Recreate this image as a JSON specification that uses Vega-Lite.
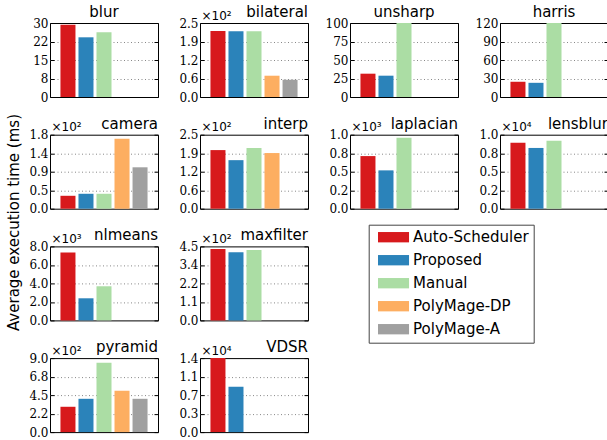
{
  "$schema": "https://vega.github.io/schema/vega-lite/v6.json",
  "padding": {"left": 5, "top": 4, "right": 0, "bottom": 0},
  "bounds": "flush",
  "columns": 4,
  "spacing": {"row": 37.7, "column": 42},
  "data": {"values": [
    {"bench": "blur", "method": "Auto-Scheduler", "time": 29.3},
    {"bench": "blur", "method": "Proposed", "time": 24.2},
    {"bench": "blur", "method": "Manual", "time": 26.3},
    {"bench": "bilateral", "method": "Auto-Scheduler", "time": 222.6},
    {"bench": "bilateral", "method": "Proposed", "time": 222.2},
    {"bench": "bilateral", "method": "Manual", "time": 222.4},
    {"bench": "bilateral", "method": "PolyMage-DP", "time": 71.9},
    {"bench": "bilateral", "method": "PolyMage-A", "time": 58.2},
    {"bench": "unsharp", "method": "Auto-Scheduler", "time": 31.5},
    {"bench": "unsharp", "method": "Proposed", "time": 28.8},
    {"bench": "unsharp", "method": "Manual", "time": 100},
    {"bench": "harris", "method": "Auto-Scheduler", "time": 24.7},
    {"bench": "harris", "method": "Proposed", "time": 23.0},
    {"bench": "harris", "method": "Manual", "time": 120},
    {"bench": "camera", "method": "Auto-Scheduler", "time": 31.4},
    {"bench": "camera", "method": "Proposed", "time": 36.3},
    {"bench": "camera", "method": "Manual", "time": 36.3},
    {"bench": "camera", "method": "PolyMage-DP", "time": 170},
    {"bench": "camera", "method": "PolyMage-A", "time": 100.7},
    {"bench": "interp", "method": "Auto-Scheduler", "time": 198},
    {"bench": "interp", "method": "Proposed", "time": 164},
    {"bench": "interp", "method": "Manual", "time": 205},
    {"bench": "interp", "method": "PolyMage-DP", "time": 188},
    {"bench": "laplacian", "method": "Auto-Scheduler", "time": 711},
    {"bench": "laplacian", "method": "Proposed", "time": 518},
    {"bench": "laplacian", "method": "Manual", "time": 959},
    {"bench": "lensblur", "method": "Auto-Scheduler", "time": 8900},
    {"bench": "lensblur", "method": "Proposed", "time": 8210},
    {"bench": "lensblur", "method": "Manual", "time": 9170},
    {"bench": "nlmeans", "method": "Auto-Scheduler", "time": 7350},
    {"bench": "nlmeans", "method": "Proposed", "time": 2390},
    {"bench": "nlmeans", "method": "Manual", "time": 3690},
    {"bench": "maxfilter", "method": "Auto-Scheduler", "time": 434},
    {"bench": "maxfilter", "method": "Proposed", "time": 415},
    {"bench": "maxfilter", "method": "Manual", "time": 428},
    {"bench": "pyramid", "method": "Auto-Scheduler", "time": 308},
    {"bench": "pyramid", "method": "Proposed", "time": 405},
    {"bench": "pyramid", "method": "Manual", "time": 843},
    {"bench": "pyramid", "method": "PolyMage-DP", "time": 503},
    {"bench": "pyramid", "method": "PolyMage-A", "time": 405},
    {"bench": "VDSR", "method": "Auto-Scheduler", "time": 14000},
    {"bench": "VDSR", "method": "Proposed", "time": 8580}
  ]},
  "concat": [
    {
      "width": 108, "height": 74,
      "title": {"text": "blur", "anchor": "middle", "dy": 7},
      "transform": [{"filter": "datum.bench == 'blur'"}],
      "layer": [
        {"mark": "bar", "encoding": {
          "x": {"field": "method", "type": "nominal", "scale": {"domain": ["Auto-Scheduler", "Proposed", "Manual", "PolyMage-DP", "PolyMage-A"], "paddingInner": 0.1667, "paddingOuter": 0.58}, "axis": null},
          "y": {"field": "time", "type": "quantitative", "scale": {"domain": [0, 30], "nice": false},
                "axis": {"values": [0, 7.5, 15, 22.5, 30], "labelExpr": "['0','8','15','22','30'][indexof([0,7.5,15,22.5,30], datum.value)]",
                         "gridOpacity": {"condition": {"test": "datum.index == 0 || datum.index == 1", "value": 0}, "value": 1},
                         "title": "Average execution time (ms)", "titleX": -37, "titleY": 199, "titleAlign": "center", "titleBaseline": "middle", "titleFontSize": 15}},
          "color": {"field": "method", "type": "nominal", "title": null, "scale": {"domain": ["Auto-Scheduler", "Proposed", "Manual", "PolyMage-DP", "PolyMage-A"], "range": ["#d7191c", "#2b83ba", "#abdda4", "#fdae61", "#a0a0a0"]}}
        }},
        {"mark": {"type": "tick", "opacity": 0}, "encoding": {
          "y": {"field": "time", "type": "quantitative", "scale": {"domain": [0, 30], "nice": false},
                "axis": {"orient": "right", "values": [0, 7.5, 15, 22.5, 30], "labels": false, "grid": false, "title": null}}
        }}
      ],
      "resolve": {"axis": {"y": "independent"}}
    },
    {
      "width": 108, "height": 74,
      "title": {"text": "bilateral", "anchor": "end", "dy": 15},
      "transform": [{"filter": "datum.bench == 'bilateral'"}],
      "layer": [
        {"mark": "bar", "encoding": {
          "x": {"field": "method", "type": "nominal", "scale": {"domain": ["Auto-Scheduler", "Proposed", "Manual", "PolyMage-DP", "PolyMage-A"], "paddingInner": 0.1667, "paddingOuter": 0.58}, "axis": null},
          "y": {"field": "time", "type": "quantitative", "scale": {"domain": [0, 250], "nice": false},
                "axis": {"values": [0, 62.5, 125, 187.5, 250], "labelExpr": "['0.0','0.6','1.2','1.9','2.5'][indexof([0,62.5,125,187.5,250], datum.value)]",
                         "gridOpacity": {"condition": {"test": "datum.index == 0 || datum.index == 1", "value": 0}, "value": 1},
                         "title": "×10²", "titleAngle": 0, "titleAlign": "left", "titleBaseline": "alphabetic", "titleX": 1, "titleY": -4}},
          "color": {"field": "method", "type": "nominal", "title": null, "scale": {"domain": ["Auto-Scheduler", "Proposed", "Manual", "PolyMage-DP", "PolyMage-A"], "range": ["#d7191c", "#2b83ba", "#abdda4", "#fdae61", "#a0a0a0"]}}
        }},
        {"mark": {"type": "tick", "opacity": 0}, "encoding": {
          "y": {"field": "time", "type": "quantitative", "scale": {"domain": [0, 250], "nice": false},
                "axis": {"orient": "right", "values": [0, 62.5, 125, 187.5, 250], "labels": false, "grid": false, "title": null}}
        }}
      ],
      "resolve": {"axis": {"y": "independent"}}
    },
    {
      "width": 108, "height": 74,
      "title": {"text": "unsharp", "anchor": "middle", "dy": 7},
      "transform": [{"filter": "datum.bench == 'unsharp'"}],
      "layer": [
        {"mark": "bar", "encoding": {
          "x": {"field": "method", "type": "nominal", "scale": {"domain": ["Auto-Scheduler", "Proposed", "Manual", "PolyMage-DP", "PolyMage-A"], "paddingInner": 0.1667, "paddingOuter": 0.58}, "axis": null},
          "y": {"field": "time", "type": "quantitative", "scale": {"domain": [0, 100], "nice": false},
                "axis": {"values": [0, 25, 50, 75, 100], "labelExpr": "['0','25','50','75','100'][indexof([0,25,50,75,100], datum.value)]",
                         "gridOpacity": {"condition": {"test": "datum.index == 0 || datum.index == 1", "value": 0}, "value": 1},
                         "title": null}},
          "color": {"field": "method", "type": "nominal", "title": null, "scale": {"domain": ["Auto-Scheduler", "Proposed", "Manual", "PolyMage-DP", "PolyMage-A"], "range": ["#d7191c", "#2b83ba", "#abdda4", "#fdae61", "#a0a0a0"]}}
        }},
        {"mark": {"type": "tick", "opacity": 0}, "encoding": {
          "y": {"field": "time", "type": "quantitative", "scale": {"domain": [0, 100], "nice": false},
                "axis": {"orient": "right", "values": [0, 25, 50, 75, 100], "labels": false, "grid": false, "title": null}}
        }}
      ],
      "resolve": {"axis": {"y": "independent"}}
    },
    {
      "width": 108, "height": 74,
      "title": {"text": "harris", "anchor": "middle", "dy": 7},
      "transform": [{"filter": "datum.bench == 'harris'"}],
      "layer": [
        {"mark": "bar", "encoding": {
          "x": {"field": "method", "type": "nominal", "scale": {"domain": ["Auto-Scheduler", "Proposed", "Manual", "PolyMage-DP", "PolyMage-A"], "paddingInner": 0.1667, "paddingOuter": 0.58}, "axis": null},
          "y": {"field": "time", "type": "quantitative", "scale": {"domain": [0, 120], "nice": false},
                "axis": {"values": [0, 30, 60, 90, 120], "labelExpr": "['0','30','60','90','120'][indexof([0,30,60,90,120], datum.value)]",
                         "gridOpacity": {"condition": {"test": "datum.index == 0 || datum.index == 1", "value": 0}, "value": 1},
                         "title": null}},
          "color": {"field": "method", "type": "nominal", "title": null, "scale": {"domain": ["Auto-Scheduler", "Proposed", "Manual", "PolyMage-DP", "PolyMage-A"], "range": ["#d7191c", "#2b83ba", "#abdda4", "#fdae61", "#a0a0a0"]}}
        }},
        {"mark": {"type": "tick", "opacity": 0}, "encoding": {
          "y": {"field": "time", "type": "quantitative", "scale": {"domain": [0, 120], "nice": false},
                "axis": {"orient": "right", "values": [0, 30, 60, 90, 120], "labels": false, "grid": false, "title": null}}
        }}
      ],
      "resolve": {"axis": {"y": "independent"}}
    },
    {
      "width": 108, "height": 74,
      "title": {"text": "camera", "anchor": "end", "dy": 15},
      "transform": [{"filter": "datum.bench == 'camera'"}],
      "layer": [
        {"mark": "bar", "encoding": {
          "x": {"field": "method", "type": "nominal", "scale": {"domain": ["Auto-Scheduler", "Proposed", "Manual", "PolyMage-DP", "PolyMage-A"], "paddingInner": 0.1667, "paddingOuter": 0.58}, "axis": null},
          "y": {"field": "time", "type": "quantitative", "scale": {"domain": [0, 180], "nice": false},
                "axis": {"values": [0, 45, 90, 135, 180], "labelExpr": "['0.0','0.5','0.9','1.4','1.8'][indexof([0,45,90,135,180], datum.value)]",
                         "gridOpacity": {"condition": {"test": "datum.index == 0 || datum.index == 1", "value": 0}, "value": 1},
                         "title": "×10²", "titleAngle": 0, "titleAlign": "left", "titleBaseline": "alphabetic", "titleX": 1, "titleY": -4}},
          "color": {"field": "method", "type": "nominal", "title": null, "scale": {"domain": ["Auto-Scheduler", "Proposed", "Manual", "PolyMage-DP", "PolyMage-A"], "range": ["#d7191c", "#2b83ba", "#abdda4", "#fdae61", "#a0a0a0"]}}
        }},
        {"mark": {"type": "tick", "opacity": 0}, "encoding": {
          "y": {"field": "time", "type": "quantitative", "scale": {"domain": [0, 180], "nice": false},
                "axis": {"orient": "right", "values": [0, 45, 90, 135, 180], "labels": false, "grid": false, "title": null}}
        }}
      ],
      "resolve": {"axis": {"y": "independent"}}
    },
    {
      "width": 108, "height": 74,
      "title": {"text": "interp", "anchor": "end", "dy": 15},
      "transform": [{"filter": "datum.bench == 'interp'"}],
      "layer": [
        {"mark": "bar", "encoding": {
          "x": {"field": "method", "type": "nominal", "scale": {"domain": ["Auto-Scheduler", "Proposed", "Manual", "PolyMage-DP", "PolyMage-A"], "paddingInner": 0.1667, "paddingOuter": 0.58}, "axis": null},
          "y": {"field": "time", "type": "quantitative", "scale": {"domain": [0, 250], "nice": false},
                "axis": {"values": [0, 62.5, 125, 187.5, 250], "labelExpr": "['0.0','0.6','1.2','1.9','2.5'][indexof([0,62.5,125,187.5,250], datum.value)]",
                         "gridOpacity": {"condition": {"test": "datum.index == 0 || datum.index == 1", "value": 0}, "value": 1},
                         "title": "×10²", "titleAngle": 0, "titleAlign": "left", "titleBaseline": "alphabetic", "titleX": 1, "titleY": -4}},
          "color": {"field": "method", "type": "nominal", "title": null, "scale": {"domain": ["Auto-Scheduler", "Proposed", "Manual", "PolyMage-DP", "PolyMage-A"], "range": ["#d7191c", "#2b83ba", "#abdda4", "#fdae61", "#a0a0a0"]}}
        }},
        {"mark": {"type": "tick", "opacity": 0}, "encoding": {
          "y": {"field": "time", "type": "quantitative", "scale": {"domain": [0, 250], "nice": false},
                "axis": {"orient": "right", "values": [0, 62.5, 125, 187.5, 250], "labels": false, "grid": false, "title": null}}
        }}
      ],
      "resolve": {"axis": {"y": "independent"}}
    },
    {
      "width": 108, "height": 74,
      "title": {"text": "laplacian", "anchor": "end", "dy": 15},
      "transform": [{"filter": "datum.bench == 'laplacian'"}],
      "layer": [
        {"mark": "bar", "encoding": {
          "x": {"field": "method", "type": "nominal", "scale": {"domain": ["Auto-Scheduler", "Proposed", "Manual", "PolyMage-DP", "PolyMage-A"], "paddingInner": 0.1667, "paddingOuter": 0.58}, "axis": null},
          "y": {"field": "time", "type": "quantitative", "scale": {"domain": [0, 1000], "nice": false},
                "axis": {"values": [0, 250, 500, 750, 1000], "labelExpr": "['0.0','0.2','0.5','0.8','1.0'][indexof([0,250,500,750,1000], datum.value)]",
                         "gridOpacity": {"condition": {"test": "datum.index == 0 || datum.index == 1", "value": 0}, "value": 1},
                         "title": "×10³", "titleAngle": 0, "titleAlign": "left", "titleBaseline": "alphabetic", "titleX": 1, "titleY": -4}},
          "color": {"field": "method", "type": "nominal", "title": null, "scale": {"domain": ["Auto-Scheduler", "Proposed", "Manual", "PolyMage-DP", "PolyMage-A"], "range": ["#d7191c", "#2b83ba", "#abdda4", "#fdae61", "#a0a0a0"]}}
        }},
        {"mark": {"type": "tick", "opacity": 0}, "encoding": {
          "y": {"field": "time", "type": "quantitative", "scale": {"domain": [0, 1000], "nice": false},
                "axis": {"orient": "right", "values": [0, 250, 500, 750, 1000], "labels": false, "grid": false, "title": null}}
        }}
      ],
      "resolve": {"axis": {"y": "independent"}}
    },
    {
      "width": 108, "height": 74,
      "title": {"text": "lensblur", "anchor": "end", "dy": 15},
      "transform": [{"filter": "datum.bench == 'lensblur'"}],
      "layer": [
        {"mark": "bar", "encoding": {
          "x": {"field": "method", "type": "nominal", "scale": {"domain": ["Auto-Scheduler", "Proposed", "Manual", "PolyMage-DP", "PolyMage-A"], "paddingInner": 0.1667, "paddingOuter": 0.58}, "axis": null},
          "y": {"field": "time", "type": "quantitative", "scale": {"domain": [0, 10000], "nice": false},
                "axis": {"values": [0, 2500, 5000, 7500, 10000], "labelExpr": "['0.0','0.2','0.5','0.8','1.0'][indexof([0,2500,5000,7500,10000], datum.value)]",
                         "gridOpacity": {"condition": {"test": "datum.index == 0 || datum.index == 1", "value": 0}, "value": 1},
                         "title": "×10⁴", "titleAngle": 0, "titleAlign": "left", "titleBaseline": "alphabetic", "titleX": 1, "titleY": -4}},
          "color": {"field": "method", "type": "nominal", "title": null, "scale": {"domain": ["Auto-Scheduler", "Proposed", "Manual", "PolyMage-DP", "PolyMage-A"], "range": ["#d7191c", "#2b83ba", "#abdda4", "#fdae61", "#a0a0a0"]}}
        }},
        {"mark": {"type": "tick", "opacity": 0}, "encoding": {
          "y": {"field": "time", "type": "quantitative", "scale": {"domain": [0, 10000], "nice": false},
                "axis": {"orient": "right", "values": [0, 2500, 5000, 7500, 10000], "labels": false, "grid": false, "title": null}}
        }}
      ],
      "resolve": {"axis": {"y": "independent"}}
    },
    {
      "width": 108, "height": 74,
      "title": {"text": "nlmeans", "anchor": "end", "dy": 15},
      "transform": [{"filter": "datum.bench == 'nlmeans'"}],
      "layer": [
        {"mark": "bar", "encoding": {
          "x": {"field": "method", "type": "nominal", "scale": {"domain": ["Auto-Scheduler", "Proposed", "Manual", "PolyMage-DP", "PolyMage-A"], "paddingInner": 0.1667, "paddingOuter": 0.58}, "axis": null},
          "y": {"field": "time", "type": "quantitative", "scale": {"domain": [0, 8000], "nice": false},
                "axis": {"values": [0, 2000, 4000, 6000, 8000], "labelExpr": "['0.0','2.0','4.0','6.0','8.0'][indexof([0,2000,4000,6000,8000], datum.value)]",
                         "gridOpacity": {"condition": {"test": "datum.index == 0 || datum.index == 1", "value": 0}, "value": 1},
                         "title": "×10³", "titleAngle": 0, "titleAlign": "left", "titleBaseline": "alphabetic", "titleX": 1, "titleY": -4}},
          "color": {"field": "method", "type": "nominal", "title": null, "scale": {"domain": ["Auto-Scheduler", "Proposed", "Manual", "PolyMage-DP", "PolyMage-A"], "range": ["#d7191c", "#2b83ba", "#abdda4", "#fdae61", "#a0a0a0"]}}
        }},
        {"mark": {"type": "tick", "opacity": 0}, "encoding": {
          "y": {"field": "time", "type": "quantitative", "scale": {"domain": [0, 8000], "nice": false},
                "axis": {"orient": "right", "values": [0, 2000, 4000, 6000, 8000], "labels": false, "grid": false, "title": null}}
        }}
      ],
      "resolve": {"axis": {"y": "independent"}}
    },
    {
      "width": 108, "height": 74,
      "title": {"text": "maxfilter", "anchor": "end", "dy": 15},
      "transform": [{"filter": "datum.bench == 'maxfilter'"}],
      "layer": [
        {"mark": "bar", "encoding": {
          "x": {"field": "method", "type": "nominal", "scale": {"domain": ["Auto-Scheduler", "Proposed", "Manual", "PolyMage-DP", "PolyMage-A"], "paddingInner": 0.1667, "paddingOuter": 0.58}, "axis": null},
          "y": {"field": "time", "type": "quantitative", "scale": {"domain": [0, 450], "nice": false},
                "axis": {"values": [0, 112.5, 225, 337.5, 450], "labelExpr": "['0.0','1.1','2.2','3.4','4.5'][indexof([0,112.5,225,337.5,450], datum.value)]",
                         "gridOpacity": {"condition": {"test": "datum.index == 0 || datum.index == 1", "value": 0}, "value": 1},
                         "title": "×10²", "titleAngle": 0, "titleAlign": "left", "titleBaseline": "alphabetic", "titleX": 1, "titleY": -4}},
          "color": {"field": "method", "type": "nominal", "title": null, "scale": {"domain": ["Auto-Scheduler", "Proposed", "Manual", "PolyMage-DP", "PolyMage-A"], "range": ["#d7191c", "#2b83ba", "#abdda4", "#fdae61", "#a0a0a0"]}}
        }},
        {"mark": {"type": "tick", "opacity": 0}, "encoding": {
          "y": {"field": "time", "type": "quantitative", "scale": {"domain": [0, 450], "nice": false},
                "axis": {"orient": "right", "values": [0, 112.5, 225, 337.5, 450], "labels": false, "grid": false, "title": null}}
        }}
      ],
      "resolve": {"axis": {"y": "independent"}}
    },
    {
      "width": 108, "height": 74,
      "view": {"stroke": null},
      "transform": [{"filter": "false"}],
      "mark": {"type": "point", "opacity": 0},
      "encoding": {}
    },
    {
      "width": 108, "height": 74,
      "view": {"stroke": null},
      "transform": [{"filter": "false"}],
      "mark": {"type": "point", "opacity": 0},
      "encoding": {}
    },
    {
      "width": 108, "height": 74,
      "title": {"text": "pyramid", "anchor": "end", "dy": 15},
      "transform": [{"filter": "datum.bench == 'pyramid'"}],
      "layer": [
        {"mark": "bar", "encoding": {
          "x": {"field": "method", "type": "nominal", "scale": {"domain": ["Auto-Scheduler", "Proposed", "Manual", "PolyMage-DP", "PolyMage-A"], "paddingInner": 0.1667, "paddingOuter": 0.58}, "axis": null},
          "y": {"field": "time", "type": "quantitative", "scale": {"domain": [0, 900], "nice": false},
                "axis": {"values": [0, 225, 450, 675, 900], "labelExpr": "['0.0','2.2','4.5','6.8','9.0'][indexof([0,225,450,675,900], datum.value)]",
                         "gridOpacity": {"condition": {"test": "datum.index == 0 || datum.index == 1", "value": 0}, "value": 1},
                         "title": "×10²", "titleAngle": 0, "titleAlign": "left", "titleBaseline": "alphabetic", "titleX": 1, "titleY": -4}},
          "color": {"field": "method", "type": "nominal", "title": null, "scale": {"domain": ["Auto-Scheduler", "Proposed", "Manual", "PolyMage-DP", "PolyMage-A"], "range": ["#d7191c", "#2b83ba", "#abdda4", "#fdae61", "#a0a0a0"]}}
        }},
        {"mark": {"type": "tick", "opacity": 0}, "encoding": {
          "y": {"field": "time", "type": "quantitative", "scale": {"domain": [0, 900], "nice": false},
                "axis": {"orient": "right", "values": [0, 225, 450, 675, 900], "labels": false, "grid": false, "title": null}}
        }}
      ],
      "resolve": {"axis": {"y": "independent"}}
    },
    {
      "width": 108, "height": 74,
      "title": {"text": "VDSR", "anchor": "end", "dy": 15},
      "transform": [{"filter": "datum.bench == 'VDSR'"}],
      "layer": [
        {"mark": "bar", "encoding": {
          "x": {"field": "method", "type": "nominal", "scale": {"domain": ["Auto-Scheduler", "Proposed", "Manual", "PolyMage-DP", "PolyMage-A"], "paddingInner": 0.1667, "paddingOuter": 0.58}, "axis": null},
          "y": {"field": "time", "type": "quantitative", "scale": {"domain": [0, 14000], "nice": false},
                "axis": {"values": [0, 3500, 7000, 10500, 14000], "labelExpr": "['0.0','0.3','0.7','1.1','1.4'][indexof([0,3500,7000,10500,14000], datum.value)]",
                         "gridOpacity": {"condition": {"test": "datum.index == 0 || datum.index == 1", "value": 0}, "value": 1},
                         "title": "×10⁴", "titleAngle": 0, "titleAlign": "left", "titleBaseline": "alphabetic", "titleX": 1, "titleY": -4}},
          "color": {"field": "method", "type": "nominal", "title": null, "scale": {"domain": ["Auto-Scheduler", "Proposed", "Manual", "PolyMage-DP", "PolyMage-A"], "range": ["#d7191c", "#2b83ba", "#abdda4", "#fdae61", "#a0a0a0"]}}
        }},
        {"mark": {"type": "tick", "opacity": 0}, "encoding": {
          "y": {"field": "time", "type": "quantitative", "scale": {"domain": [0, 14000], "nice": false},
                "axis": {"orient": "right", "values": [0, 3500, 7000, 10500, 14000], "labels": false, "grid": false, "title": null}}
        }}
      ],
      "resolve": {"axis": {"y": "independent"}}
    }
  ],
  "config": {
    "view": {"stroke": "#000", "strokeWidth": 1},
    "axis": {
      "domain": false, "tickSize": -4, "tickColor": "#000", "tickWidth": 1,
      "labelFont": "DejaVu Serif", "labelFontSize": 12, "labelColor": "#000", "labelPadding": 6,
      "gridColor": "#888", "gridDash": [1, 2.5], "gridWidth": 1,
      "titleFont": "DejaVu Sans", "titleFontWeight": "normal", "titleColor": "#000", "titleFontSize": 12
    },
    "title": {"font": "DejaVu Sans", "fontSize": 15, "fontWeight": "normal", "color": "#000", "frame": "group", "offset": 4},
    "legend": {
      "orient": "none", "legendX": 318.7, "legendY": 201.7, "padding": 5,
      "strokeColor": "#444", "fillColor": "#fff",
      "labelFont": "DejaVu Sans", "labelFontSize": 15, "labelColor": "#000",
      "symbolType": "M-3,-1H3V1H-3Z", "symbolSize": 107, "symbolStrokeWidth": 0,
      "symbolOffset": 12.33, "labelOffset": 12, "rowPadding": 7, "symbolOpacity": 1
    }
  }
}
